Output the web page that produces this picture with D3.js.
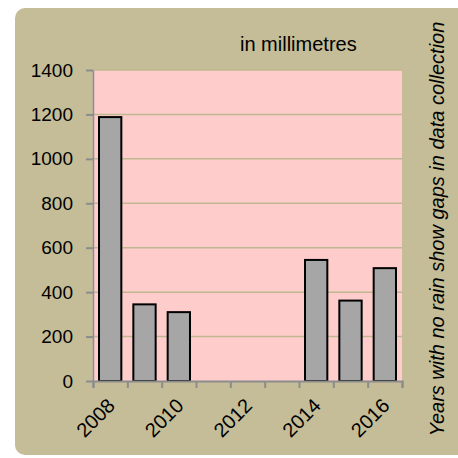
<!DOCTYPE html>
<html>
<head>
<meta charset="utf-8">
<script src="https://cdn.jsdelivr.net/npm/d3@7"></script>
<style>
  html, body { margin: 0; padding: 0; background: #ffffff; }
  svg { display: block; }
  text { font-family: "Liberation Sans", Arial, sans-serif; fill: #000; }
</style>
</head>
<body>
<svg id="chart" width="458" height="458"></svg>
<script>
// rainfall per year, in millimetres (0 = no data)
var years = ['2008', '2009', '2010', '2011', '2012', '2013', '2014', '2015', '2016'];
var rainfall = [1188, 345, 310, 0, 0, 0, 545, 362, 508];
var yTicks = [0, 200, 400, 600, 800, 1000, 1200, 1400];
var labelledYears = ['2008', '2010', '2012', '2014', '2016'];

var svg = d3.select('#chart');

// chart area background
svg.append('rect')
  .attr('x', 15).attr('y', 8)
  .attr('width', 470).attr('height', 447)
  .attr('rx', 10).attr('ry', 10)
  .attr('fill', '#c4bd97');

var plot = { left: 93, right: 402, top: 70, bottom: 381 };

var x = d3.scaleBand()
  .domain(years)
  .range([plot.left, plot.right])
  .paddingInner(0.35)
  .paddingOuter(0.175);

var xEdges = d3.scaleLinear()
  .domain([0, years.length])
  .range([plot.left, plot.right]);

var y = d3.scaleLinear()
  .domain([0, 1400])
  .range([plot.bottom, plot.top]);

// plot area
svg.append('rect')
  .attr('x', plot.left).attr('y', plot.top)
  .attr('width', plot.right - plot.left)
  .attr('height', plot.bottom - plot.top)
  .attr('fill', '#ffcccc');

// gridlines
svg.append('g')
  .selectAll('line')
  .data(yTicks.filter(function(d) { return d > 0; }))
  .join('line')
  .attr('x1', plot.left).attr('x2', plot.right)
  .attr('y1', function(d) { return y(d); })
  .attr('y2', function(d) { return y(d); })
  .attr('stroke', '#bfb78f')
  .attr('stroke-width', 1.5);

// bars
svg.append('g')
  .selectAll('rect')
  .data(years.map(function(d, i) { return { year: d, value: rainfall[i] }; })
    .filter(function(d) { return d.value > 0; }))
  .join('rect')
  .attr('x', function(d) { return x(d.year); })
  .attr('y', function(d) { return y(d.value); })
  .attr('width', x.bandwidth())
  .attr('height', function(d) { return y(0) - y(d.value); })
  .attr('fill', '#a6a6a6')
  .attr('stroke', '#000')
  .attr('stroke-width', 2);

// y axis
var yAxis = svg.append('g')
  .attr('transform', 'translate(' + plot.left + ',0)')
  .call(d3.axisLeft(y).tickValues(yTicks).tickFormat(d3.format('d'))
    .tickSize(7).tickPadding(13).tickSizeOuter(0));
yAxis.select('.domain').attr('stroke', '#8f8a9a').attr('stroke-width', 1.5);
yAxis.selectAll('.tick line').attr('stroke', '#8c8c8c').attr('stroke-width', 2);
yAxis.selectAll('.tick text')
  .attr('font-size', 19)
  .attr('font-family', '"Liberation Sans", Arial, sans-serif');

// x axis: ticks at category edges
var xAxis = svg.append('g')
  .attr('transform', 'translate(0,' + plot.bottom + ')')
  .call(d3.axisBottom(xEdges).tickValues(d3.range(years.length + 1)).tickSize(7).tickFormat(''));
xAxis.select('.domain').attr('stroke', '#8c8c8c').attr('stroke-width', 2);
xAxis.selectAll('.tick line').attr('stroke', '#8c8c8c').attr('stroke-width', 2);

// x labels, every other year, rotated
svg.append('g')
  .selectAll('text')
  .data(labelledYears)
  .join('text')
  .attr('transform', function(d) {
    return 'translate(' + (x(d) + x.bandwidth() / 2 + 1) + ',' + (plot.bottom + 21) + ') rotate(-45)';
  })
  .attr('text-anchor', 'end')
  .attr('dy', '0.35em')
  .attr('font-size', 20)
  .text(function(d) { return d; });

// title
svg.append('text')
  .attr('x', 240).attr('y', 51)
  .attr('font-size', 20)
  .text('in millimetres');

// side note
svg.append('text')
  .attr('transform', 'translate(444,229) rotate(-90)')
  .attr('text-anchor', 'middle')
  .attr('font-size', 20)
  .attr('font-style', 'italic')
  .text('Years with no rain show gaps in data collection');
</script>
</body>
</html>
